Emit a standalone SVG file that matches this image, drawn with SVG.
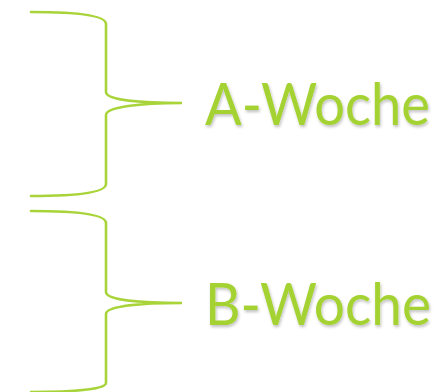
<svg xmlns="http://www.w3.org/2000/svg" width="444" height="392" viewBox="0 0 444 392">
<defs>
<filter id="sh" x="-10%" y="-20%" width="130%" height="150%">
<feDropShadow dx="1" dy="2" stdDeviation="1.5" flood-color="#000" flood-opacity="0.25"/>
</filter>
<style>
.brace{fill:none;stroke:#A8D43A;stroke-width:2.6;stroke-linecap:round}
.lbl{font-family:Lato,"Open Sans","Liberation Sans",sans-serif;font-size:58px;fill:#A4D230;filter:url(#sh)}
</style>
</defs>
<rect width="444" height="392" fill="#fff"/>
<g id="connectors">
<path class="brace" d="M31,12 C75,12 106,15 106,24 L106,92 C106,100 140,103 182,103 C140,103 106,107 106,115 L106,184 C106,193 75,196 31,196"/>
<path class="brace" d="M31,211 C75,211 106,214 106,223 L106,292 C106,300 140,303 182,303 C140,303 106,306 106,314 L106,383 C106,389 75,392 31,392"/>
</g>
<g id="a-woche"><text class="lbl" x="205" y="125" textLength="225" lengthAdjust="spacingAndGlyphs">A-Woche</text></g>
<g id="b-woche"><text class="lbl" x="205" y="325" textLength="226" lengthAdjust="spacingAndGlyphs">B-Woche</text></g>
</svg>
